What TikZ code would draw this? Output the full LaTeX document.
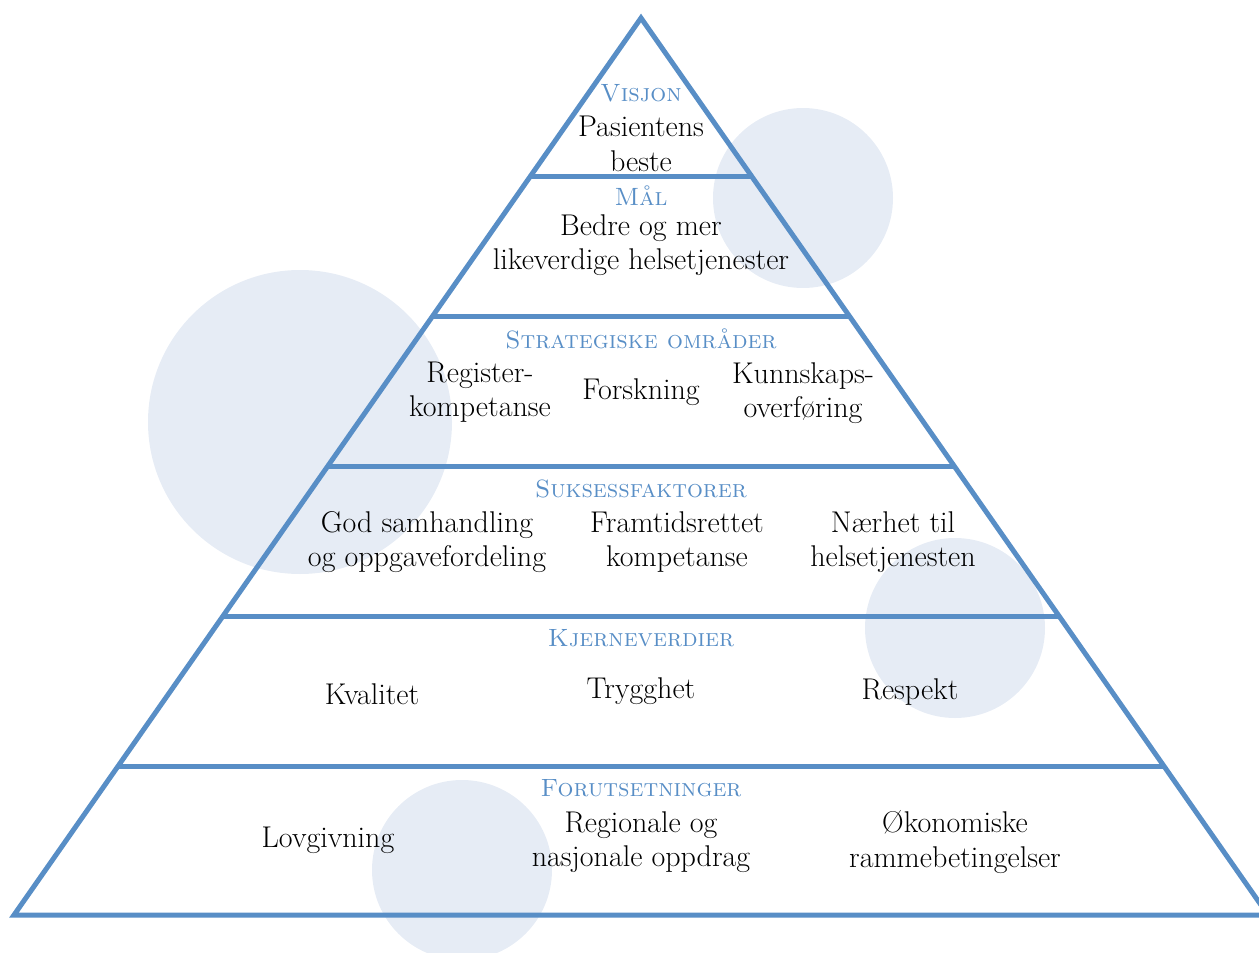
\documentclass[tikz,border=0pt]{standalone}
\usepackage{fontspec}
\definecolor{pyr}{RGB}{88,142,198}
\definecolor{bub}{RGB}{230,236,245}
\begin{document}
\begin{tikzpicture}[x=1pt,y=-1pt,
  hdr/.style={text=pyr,font=\fontsize{25}{30}\selectfont\scshape,inner sep=0pt},
  txt/.style={font=\fontsize{30}{34.5}\selectfont,align=center,inner sep=0pt},
  bubble/.style={fill=bub,draw=none},
  pline/.style={draw=pyr,line width=5pt}]
\useasboundingbox (0,0) rectangle (1259,953);
\clip (0,0) rectangle (1259,953);
% bubbles
\fill[bubble] (803,198) circle (90);
\fill[bubble] (300,422) circle (152);
\fill[bubble] (955,628) circle (90);
\fill[bubble] (462,870) circle (90);
% pyramid
\coordinate (apex) at (641,18);
\coordinate (bl) at (14,915);
\coordinate (br) at (1268,915);
\draw[pline,line join=miter] (bl) -- (apex) -- (br) -- cycle;
\foreach \yy in {176,316,466,616,766}{
  \draw[pline] ({641-0.699*(\yy-18)},\yy) -- ({641+0.699*(\yy-18)},\yy);
}
% level 1
\node[hdr] (h1) at (641,93) {Visjon};
\node[txt] (t1) at (641,144) {Pasientens\\beste};
% level 2
\node[hdr] (h2) at (641,196) {Mål};
\node[txt] (t2) at (641,245) {Bedre og mer\\likeverdige helsetjenester};
% level 3
\node[hdr] (h3) at (641,339) {Strategiske områder};
\node[txt] (t3a) at (480,392) {Register-\\kompetanse};
\node[txt] (t3b) at (641,392) {Forskning};
\node[txt] (t3c) at (803,393) {Kunnskaps-\\overføring};
% level 4
\node[hdr] (h4) at (641,489) {Suksessfaktorer};
\node[txt] (t4a) at (427,542) {God samhandling\\og oppgavefordeling};
\node[txt] (t4b) at (677,542) {Framtidsrettet\\kompetanse};
\node[txt] (t4c) at (893,542) {Nærhet til\\helsetjenesten};
% level 5
\node[hdr] (h5) at (641,638) {Kjerneverdier};
\node[txt] (t5a) at (372,694) {Kvalitet};
\node[txt] (t5b) at (641,691) {Trygghet};
\node[txt] (t5c) at (910,692) {Respekt};
% level 6
\node[hdr] (h6) at (641,788) {Forutsetninger};
\node[txt] (t6a) at (328,840) {Lovgivning};
\node[txt] (t6b) at (641,842) {Regionale og\\nasjonale oppdrag};
\node[txt] (t6c) at (955,842) {Økonomiske\\rammebetingelser};
\end{tikzpicture}
\end{document}
